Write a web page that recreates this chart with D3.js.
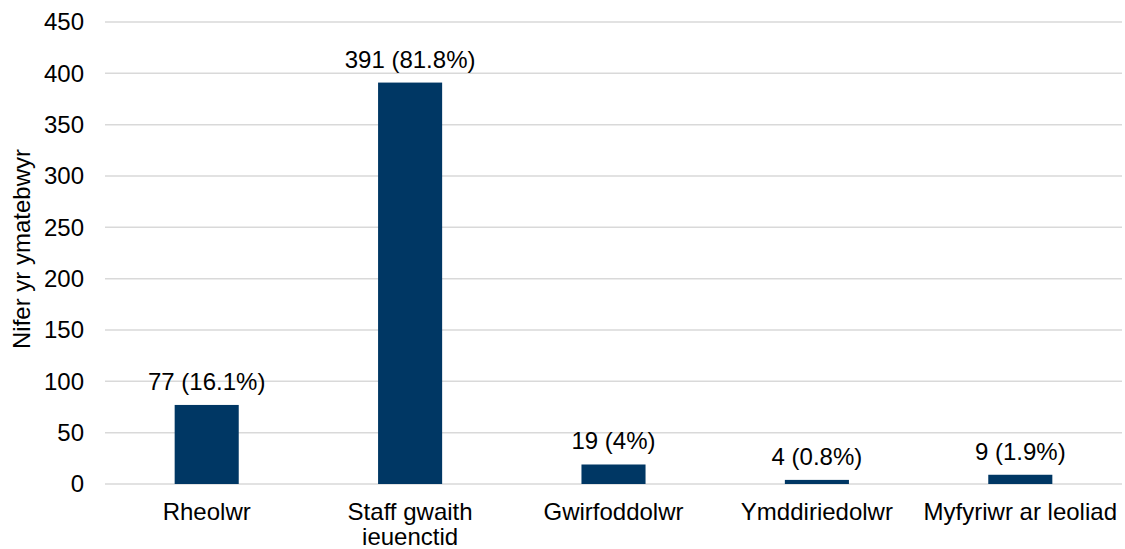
<!DOCTYPE html>
<html><head><meta charset="utf-8">
<script src="https://cdn.jsdelivr.net/npm/d3@7"></script>
<style>body{margin:0;background:#fff}svg{display:block}text{font-family:"Liberation Sans",Arial,sans-serif;fill:#000}</style>
</head><body>
<svg id="c" width="1125" height="549"></svg>
<script>
const categories = [["Rheolwr"], ["Staff gwaith", "ieuenctid"], ["Gwirfoddolwr"], ["Ymddiriedolwr"], ["Myfyriwr ar leoliad"]];
const values = [77, 391, 19, 4, 9];
const labels = ["77 (16.1%)", "391 (81.8%)", "19 (4%)", "4 (0.8%)", "9 (1.9%)"];
const yTicks = [0, 50, 100, 150, 200, 250, 300, 350, 400, 450];
const yTitle = "Nifer yr ymatebwyr";

(function() {
const svg = d3.select("#c");
const pl = 105, pr = 1122, pt = 22, pb = 484;
const keys = categories.map((c, i) => i);
const x = d3.scaleBand().domain(keys).range([pl, pr]).paddingInner(0.685).paddingOuter(0.3425);
const y = d3.scaleLinear().domain([0, 450]).range([pb, pt]);

const grid = svg.append("g");
grid.selectAll("line").data(yTicks).join("line")
  .attr("x1", pl).attr("x2", pr)
  .attr("y1", d => y(d)).attr("y2", d => y(d))
  .attr("stroke", "#d9d9d9").attr("stroke-width", 1.5);

const yAxis = svg.append("g").attr("transform", `translate(${pl},0)`)
  .call(d3.axisLeft(y).tickValues(yTicks).tickSize(0).tickPadding(21));
yAxis.select(".domain").remove();
yAxis.selectAll("text").attr("font-size", 24).attr("font-family", "Liberation Sans, Arial, sans-serif").attr("fill", "#000");

svg.append("g").selectAll("rect").data(values).join("rect")
  .attr("x", (d, i) => x(i)).attr("width", x.bandwidth())
  .attr("y", d => y(d)).attr("height", d => y(0) - y(d))
  .attr("fill", "#003764");

svg.append("g").selectAll("text").data(values).join("text")
  .attr("x", (d, i) => x(i) + x.bandwidth() / 2)
  .attr("y", d => y(d) - 15)
  .attr("text-anchor", "middle").attr("font-size", 24)
  .text((d, i) => labels[i]);

const cat = svg.append("g").selectAll("g").data(categories).join("g");
cat.selectAll("text").data((d, i) => d.map((t, j) => ({t, i, j}))).join("text")
  .attr("x", d => x(d.i) + x.bandwidth() / 2)
  .attr("y", d => 520 + d.j * 25)
  .attr("text-anchor", "middle").attr("font-size", 24)
  .text(d => d.t);

svg.append("text")
  .attr("transform", `translate(30,249) rotate(-90)`)
  .attr("text-anchor", "middle").attr("font-size", 24)
  .text(yTitle);
})();
</script>
</body></html>
